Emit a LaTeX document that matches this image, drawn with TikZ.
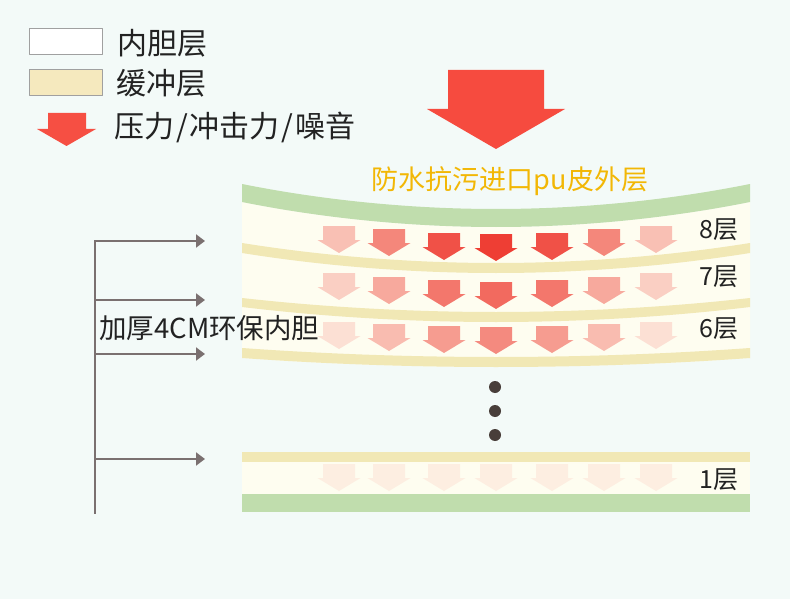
\documentclass[tikz,border=0pt]{standalone}
\usepackage{fontspec}
\setmainfont{Noto Sans CJK SC}
\usetikzlibrary{arrows.meta,positioning}
\definecolor{bgmint}{RGB}{243,250,248}
\definecolor{topgreen}{RGB}{192,221,173}
\definecolor{beigeband}{RGB}{241,232,181}
\definecolor{legbeige}{RGB}{245,233,190}
\definecolor{creamfill}{RGB}{254,253,240}
\definecolor{legframe}{RGB}{160,160,160}
\definecolor{inkdark}{RGB}{34,34,34}
\definecolor{titlegold}{RGB}{242,183,5}
\definecolor{brkgray}{RGB}{122,112,112}
\definecolor{dotbrown}{RGB}{72,62,58}
\definecolor{bigred}{RGB}{246,75,63}
\definecolor{arrred}{RGB}{238,62,52}
\tikzset{
  legbox/.style={draw=legframe,line width=1.2pt,minimum width=73pt,minimum height=26pt,inner sep=0pt},
  legtxt/.style={anchor=west,inner sep=0pt,text=inkdark,font=\fontsize{30}{30}\selectfont},
  lvltxt/.style={anchor=west,inner sep=0pt,text=inkdark,font=\fontsize{25}{25}\selectfont},
  brk/.style={draw=brkgray,line width=2pt},
  brkarr/.style={brk,-{Triangle[length=9pt,width=13pt]}}
}
% one small pressure arrow: centre x, tip y, colour
\newcommand\pressarr[3]{%
  \fill[#3] ({#1-16},{#2-27}) -- ({#1+16},{#2-27}) -- ({#1+16},{#2-13}) -- ({#1+21.5},{#2-13})
    -- (#1,#2) -- ({#1-21.5},{#2-13}) -- ({#1-16},{#2-13}) -- cycle;}
\newcommand\slsh{\kern2pt/\kern2pt}

\begin{document}
\begin{tikzpicture}[x=1pt,y=-1pt,line join=round]
\fill[bgmint] (0,0) rectangle (790,599);
\useasboundingbox (0,0) rectangle (790,599);

% --- legend
\node[legbox,fill=white,anchor=north west] (lgwhite) at (29,28) {};
\node[legbox,fill=legbeige,anchor=north west] (lgbeige) at (29,69) {};
\node[legtxt] (lgwhitet) at (117,43) {内胆层};
\node[legtxt] (lgbeiget) at (116,83) {缓冲层};
\fill[bigred!98!white] (48,113) -- (86,113) -- (86,129) -- (96,129) -- (66.5,146) -- (37,129) -- (48,129) -- cycle;
\node[legtxt] (lgarrt) at (114,127) {压力\slsh 冲击力\slsh 噪音};

% --- big arrow and skin title
\fill[bigred] (448,70) -- (544,70) -- (544,109) -- (565,109) -- (496,149) -- (427,109) -- (448,109) -- cycle;
\node[inner sep=0pt,text=titlegold,font=\fontsize{27}{27}\selectfont] (skin) at (510,181) {防水抗污进口pu皮外层};

% --- upper layers 8,7,6
\fill[creamfill] (242,202) parabola bend (496,227) (750,202) -- (750,358) parabola bend (496,367) (242,358) -- cycle;
\fill[topgreen] (242,184) parabola bend (496,209) (750,184) -- (750,202) parabola bend (496,227) (242,202) -- cycle;
\fill[beigeband] (242,243) parabola bend (496,263) (750,243) -- (750,253) parabola bend (496,273) (242,253) -- cycle;
\fill[beigeband] (242,298) parabola bend (496,312) (750,298) -- (750,307) parabola bend (496,322) (242,307) -- cycle;
\fill[beigeband] (242,348) parabola bend (496,357) (750,348) -- (750,358) parabola bend (496,367) (242,358) -- cycle;
\foreach \x/\t/\p in {339/253/32,389/256/62,444/260/90,496/261/100,552/260/90,604/256/62,656/253/32}
  \pressarr{\x}{\t}{arrred!\p!creamfill};
\foreach \x/\t/\p in {339/300/24,389/304/44,444/307/70,496/309/77,552/307/70,604/304/44,656/300/24}
  \pressarr{\x}{\t}{arrred!\p!creamfill};
\foreach \x/\t/\p in {339/349/15,389/351/34,444/353/51,496/354/60,552/353/51,604/351/34,656/349/15}
  \pressarr{\x}{\t}{arrred!\p!creamfill};

% --- dots
\foreach \y [count=\i] in {387,411,435}
  \fill[dotbrown] (495,\y) circle (6) coordinate (dot\i);

% --- layer 1
\fill[beigeband] (242,452) rectangle (750,462);
\fill[creamfill] (242,462) rectangle (750,494);
\fill[topgreen] (242,494) rectangle (750,512);
\foreach \x in {339,389,444,496,552,604,656}
  \pressarr{\x}{491}{arrred!8!creamfill};

% --- layer labels
\node[lvltxt] (l8) at (699,230) {8层};
\node[lvltxt] (l7) at (699,277) {7层};
\node[lvltxt] (l6) at (699,329) {6层};
\node[lvltxt] (l1) at (699,480) {1层};

% --- inner core bracket
\coordinate (btop) at (95,240);
\coordinate (bbot) at (95,514);
\draw[brk] (btop) -- (bbot);
\foreach \y/\n in {241/a,300/b,354/c,459/d} {
  \coordinate (bs\n) at (95,\y);
  \coordinate (be\n) at (205,\y);
  \draw[brkarr] (bs\n) -- (be\n);
}
\node[anchor=west,inner sep=0pt,text=inkdark,font=\fontsize{27.5}{27.5}\selectfont] (core) at (99,328) {加厚4CM环保内胆};
\end{tikzpicture}
\end{document}
